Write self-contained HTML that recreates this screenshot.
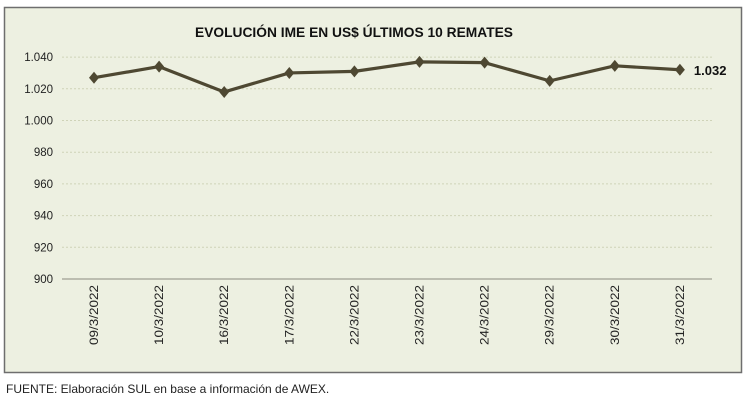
<!DOCTYPE html>
<html><head><meta charset="utf-8"><style>
body{margin:0;background:#fff;width:750px;height:404px;overflow:hidden;font-family:"Liberation Sans",sans-serif}
</style></head><body>
<svg width="750" height="404">
<rect x="4.5" y="7.5" width="737" height="365" fill="#edf0e1" stroke="#6e6e6e" stroke-width="1.5"/>
<text x="354" y="37" text-anchor="middle" font-size="13.5" font-weight="bold" fill="#111" textLength="318" lengthAdjust="spacingAndGlyphs">EVOLUCIÓN IME EN US$ ÚLTIMOS 10 REMATES</text>
<g id="grid"></g><g id="yt"></g><g id="xt"></g><g id="series"></g>
<text x="6" y="393" font-size="12" fill="#222">FUENTE: Elaboración SUL en base a información de AWEX.</text>
</svg>
<script>
const categories=["09/3/2022","10/3/2022","16/3/2022","17/3/2022","22/3/2022","23/3/2022","24/3/2022","29/3/2022","30/3/2022","31/3/2022"];
const values=[1027,1034,1018,1030,1031,1037,1036.5,1025,1034.5,1032];
const yTicks=[900,920,940,960,980,1000,1020,1040];
const yLabels=["900","920","940","960","980","1.000","1.020","1.040"];
const lastLabel="1.032";
const NS="http://www.w3.org/2000/svg";
const y=v=>279-(v-900)*1.585;
const x=i=>94+i*65.1;
function mk(t,a,p){const e=document.createElementNS(NS,t);for(const k in a)e.setAttribute(k,a[k]);document.getElementById(p).appendChild(e);return e;}
yTicks.forEach((v,i)=>{
 const g=mk('line',{x1:62,x2:712,y1:y(v),y2:y(v),stroke:i==0?'#8a8a80':'#cfd3b8','stroke-width':1,'stroke-dasharray':i==0?'':'2,2'},'grid');
 
 
 const t=mk('text',{x:53,y:y(v)+4,'text-anchor':'end','font-size':11.5,fill:'#222'},'yt');
 t.textContent=yLabels[i];
 
 
});
categories.forEach((c,i)=>{
 const t=mk('text',{x:0,y:0,'text-anchor':'end','font-size':11.5,fill:'#222',textLength:60,lengthAdjust:'spacingAndGlyphs',transform:`translate(${x(i)+4},285) rotate(-90)`},'xt');
 t.textContent=c;
 
 
});
const pl=mk('polyline',{points:values.map((v,i)=>x(i)+','+y(v)).join(' '),fill:'none',stroke:'#4e4832','stroke-width':3.2,'stroke-linejoin':'round'},'series');


values.forEach((v,i)=>{
 const cx=x(i),cy=y(v);
 const m=mk('polygon',{points:`${cx},${cy-6} ${cx+5},${cy} ${cx},${cy+6} ${cx-5},${cy}`,fill:'#4e4832'},'series');
 
 
});
const lt=mk('text',{x:x(values.length-1)+14,y:y(values[values.length-1])+5,'font-size':13,'font-weight':'bold',fill:'#111'},'series');
lt.textContent=lastLabel;


</script>
</body></html>
